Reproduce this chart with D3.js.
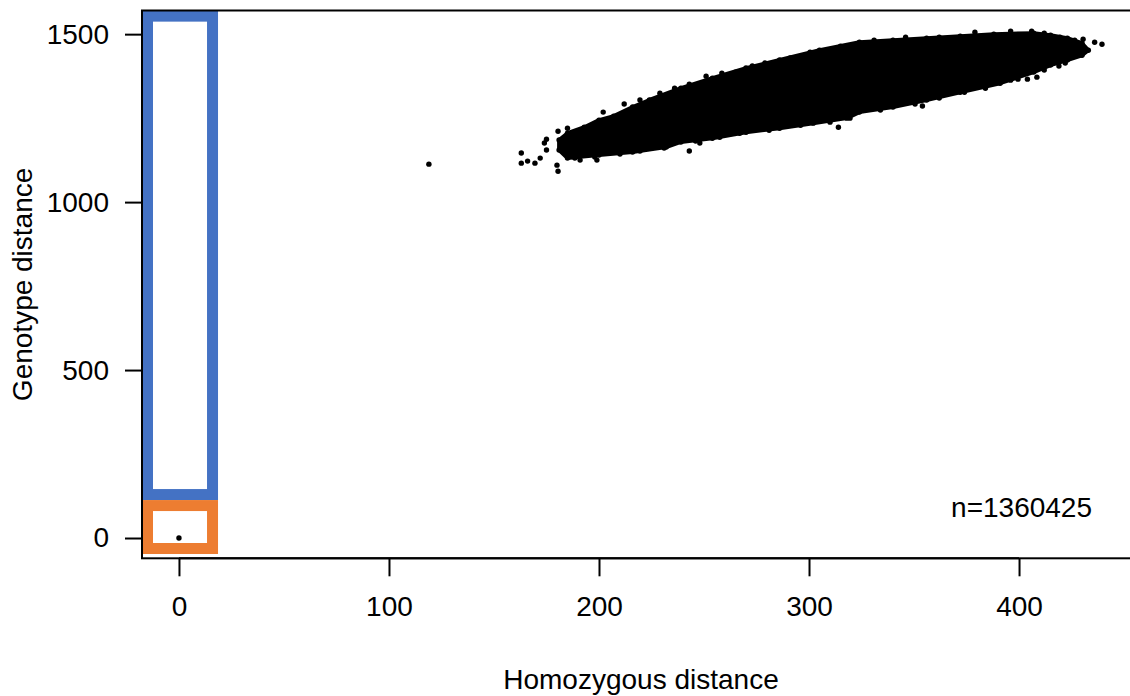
<!DOCTYPE html>
<html>
<head>
<meta charset="utf-8">
<script src="https://cdn.jsdelivr.net/npm/d3@7"></script>
<style>
  body { margin: 0; background: #fff; }
  text { font-family: "Liberation Sans", Arial, sans-serif; fill: #000; }
</style>
</head>
<body>
<div id="chart"></div>
<script>
// Tick values
const xTicks = [0, 100, 200, 300, 400];
const yTicks = [0, 500, 1000, 1500];

// Dense core of the cloud: upper edge (left to right) and lower edge (right to left)
const cloudUpper = [
  [181, 1185], [185, 1205], [193, 1223], [200, 1244], [207, 1256], [216, 1283],
  [224, 1304], [239, 1339], [254, 1369], [270, 1399], [286, 1423], [305, 1452],
  [324, 1476], [340, 1482], [356, 1488], [372, 1494], [388, 1500], [407, 1503],
  [415, 1497], [423, 1488], [430, 1473], [433, 1452]
];
const cloudLower = [
  [430, 1437], [423, 1423], [415, 1408], [407, 1387], [391, 1354], [372, 1327],
  [356, 1304], [340, 1283], [324, 1268], [318, 1250], [302, 1235], [286, 1220],
  [270, 1208], [254, 1190], [239, 1179], [232, 1164], [216, 1149], [200, 1140],
  [185, 1131], [181, 1155]
];

// Points sitting on the ragged rim of the core
const rimX = [212, 219.5, 229, 236, 243, 251, 258.5, 265, 273, 279, 291, 300.5, 315, 346, 362, 379, 396, 412, 419.5, 426.5,
  422, 412, 396, 384, 374, 362, 350.5, 334, 319.5, 310, 296, 281, 267, 257.5, 246, 231, 219.5, 210, 198, 188.5];
const rimY = [1292, 1304, 1324, 1339, 1351, 1375, 1384, 1387, 1405, 1414, 1429, 1446, 1464, 1491, 1491, 1506, 1509, 1503, 1491, 1482,
  1414, 1393, 1363, 1339, 1327, 1310, 1292, 1274, 1250, 1238, 1229, 1214, 1205, 1193, 1182, 1161, 1152, 1143, 1134, 1131];

// Individual points lying outside the dense core
const pointX = [0, 119, 163, 163, 166, 169.5, 172, 174, 175, 175, 180.5, 185, 180.5, 180,
  191, 199, 202, 196, 243, 248, 292, 314, 354, 331, 399.5, 404, 408.5, 419, 406, 430.5, 436, 439.5];
const pointY = [0, 1113, 1146, 1116, 1122, 1116, 1131, 1176, 1155, 1187, 1211, 1220, 1092, 1110,
  1125, 1125, 1268, 1223, 1152, 1176, 1241, 1223, 1286, 1482, 1366, 1366, 1372, 1405, 1509, 1485, 1476, 1470];

// Highlight boxes, in data units
const highlights = [
  { x0: -17.6, x1: 18.6, y0: 113, y1: 1570, color: "#4472C4" },
  { x0: -17.6, x1: 18.6, y0: -47.6, y1: 113, color: "#ED7D31" }
];

const nLabel = "n=1360425";

const width = 1130, height = 696;
const plot = { left: 142, right: 1140, top: 10.5, bottom: 558.3 };

const svg = d3.select("#chart").append("svg")
  .attr("width", width)
  .attr("height", height);

const x = d3.scaleLinear().domain([-17.6, 457.6]).range([plot.left, plot.right]);
const y = d3.scaleLinear().domain([-60.4, 1570.4]).range([plot.bottom, plot.top]);

// Highlight rectangles
const sw = 11;
svg.append("g").selectAll("rect")
  .data(highlights)
  .join("rect")
  .attr("x", d => x(d.x0) + sw / 2)
  .attr("y", d => y(d.y1) + sw / 2)
  .attr("width", d => x(d.x1) - x(d.x0) - sw)
  .attr("height", d => y(d.y0) - y(d.y1) - sw)
  .attr("fill", "none")
  .attr("stroke", d => d.color)
  .attr("stroke-width", sw);

// Cloud core
const cloud = cloudUpper.concat(cloudLower);
svg.append("path")
  .datum(cloud)
  .attr("d", d3.line().x(d => x(d[0])).y(d => y(d[1])).curve(d3.curveLinearClosed))
  .attr("fill", "#000")
  .attr("stroke", "#000")
  .attr("stroke-width", 4)
  .attr("stroke-linejoin", "round");

const dots = cloud
  .concat(rimX.map((v, i) => [v, rimY[i]]))
  .concat(pointX.map((v, i) => [v, pointY[i]]));

svg.append("g").selectAll("circle")
  .data(dots)
  .join("circle")
  .attr("cx", d => x(d[0]))
  .attr("cy", d => y(d[1]))
  .attr("r", 2.7)
  .attr("fill", "#000");

// Plot box
svg.append("rect")
  .attr("x", plot.left)
  .attr("y", plot.top)
  .attr("width", plot.right - plot.left)
  .attr("height", plot.bottom - plot.top)
  .attr("fill", "none")
  .attr("stroke", "#000")
  .attr("stroke-width", 2);

// Axes
const fs = 28;
const xAxis = d3.axisBottom(x).tickValues(xTicks).tickSize(18).tickPadding(20).tickFormat(d3.format("d"));
const gx = svg.append("g").attr("transform", `translate(0,${plot.bottom})`).call(xAxis);
gx.select(".domain").attr("d", `M${x(0)},0H${x(400)}`).attr("stroke-width", 2);
gx.selectAll(".tick line").attr("stroke-width", 2);
gx.selectAll("text").style("font-size", fs + "px").style("font-family", "Liberation Sans, Arial, sans-serif");

const yAxis = d3.axisLeft(y).tickValues(yTicks).tickSize(17).tickPadding(16).tickFormat(d3.format("d"));
const gy = svg.append("g").attr("transform", `translate(${plot.left},0)`).call(yAxis);
gy.select(".domain").attr("d", `M0,${y(0)}V${y(1500)}`).attr("stroke-width", 2);
gy.selectAll(".tick line").attr("stroke-width", 2);
gy.selectAll("text").style("font-size", fs + "px").style("font-family", "Liberation Sans, Arial, sans-serif");

// Axis titles
svg.append("text")
  .attr("x", (plot.left + plot.right) / 2)
  .attr("y", 689)
  .attr("text-anchor", "middle")
  .style("font-size", fs + "px")
  .text("Homozygous distance");

svg.append("text")
  .attr("transform", `translate(32,${(plot.top + plot.bottom) / 2}) rotate(-90)`)
  .attr("text-anchor", "middle")
  .style("font-size", fs + "px")
  .text("Genotype distance");

// Count label
svg.append("text")
  .attr("x", 1092)
  .attr("y", 517)
  .attr("text-anchor", "end")
  .style("font-size", fs + "px")
  .text(nLabel);
</script>
</body>
</html>
